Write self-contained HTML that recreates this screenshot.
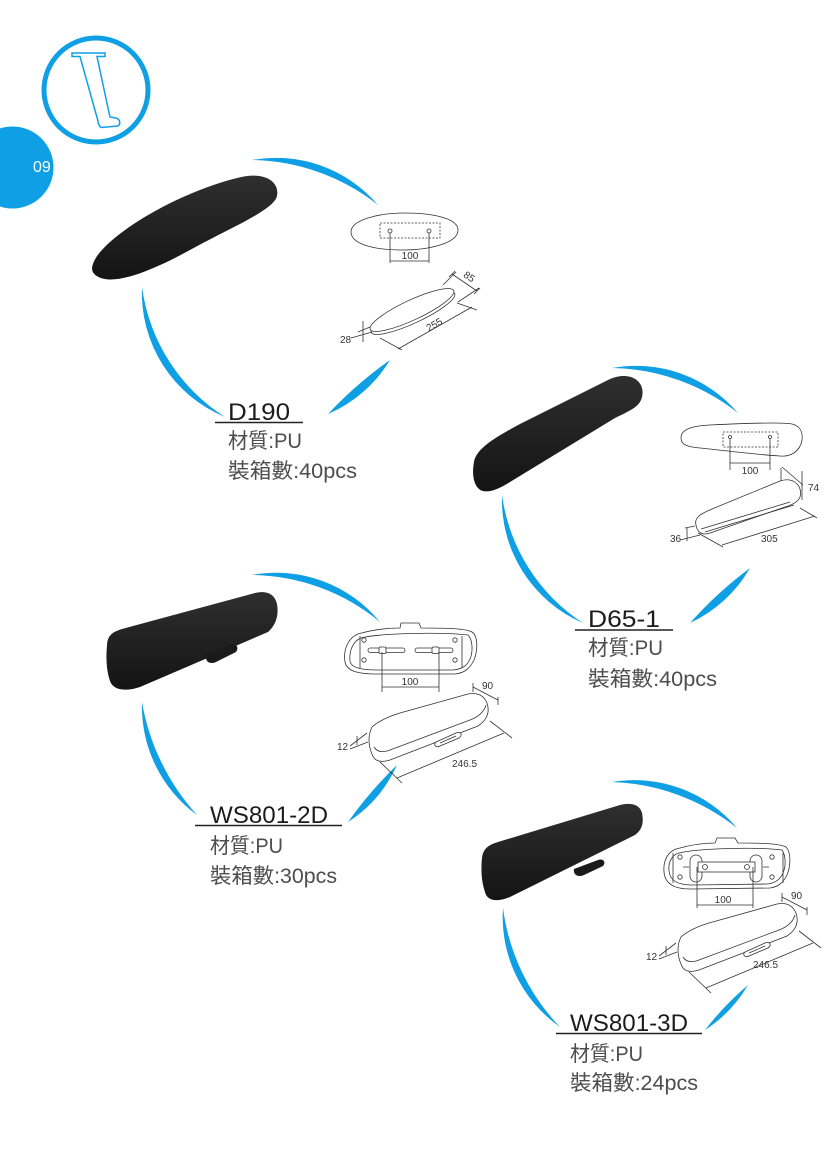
<!DOCTYPE html>
<html>
<head>
<meta charset="utf-8">
<style>
  html,body{margin:0;padding:0;background:#fff;}
  body{width:827px;height:1159px;overflow:hidden;}
  svg{display:block;}
  .lbl{font-family:"Liberation Sans","Noto Sans CJK TC",sans-serif;fill:#1c1c1c;font-size:24px;}
  .cn{font-family:"Liberation Sans","Noto Sans CJK TC",sans-serif;fill:#4d4d4d;font-size:21px;}
  .dim{font-family:"Liberation Sans",sans-serif;fill:#333;font-size:10px;}
  .ln{fill:none;stroke:#333;stroke-width:0.8;}
  .lw{fill:#fff;stroke:#333;stroke-width:0.8;}
  .arc{fill:#0f9fe5;}
</style>
</head>
<body>
<svg width="827" height="1159" viewBox="0 0 827 1159" xmlns="http://www.w3.org/2000/svg">
<defs>
  <linearGradient id="g" x1="0" y1="0" x2="0" y2="1">
    <stop offset="0" stop-color="#2f2f2f"/>
    <stop offset="1" stop-color="#141414"/>
  </linearGradient>
</defs>
<rect width="827" height="1159" fill="#fff"/>

<!-- top-left logo -->
<circle cx="12.5" cy="167.5" r="41" fill="#0f9fe5"/>
<text x="33" y="172" font-family="Liberation Sans, sans-serif" font-size="16" fill="#fff">09</text>
<circle cx="96" cy="90" r="52" fill="none" stroke="#0f9fe5" stroke-width="5"/>
<path d="M72 53 L105 53 L105 56.5 L97 56.5 L108 108 L110 117 L116 118 C120 119,121 124,118 126 L101 127.5 C99 126,98 123,98 121 L80 56.5 L72 56.5 Z" fill="none" stroke="#0f9fe5" stroke-width="1.5"/>

<!-- ===== D190 ===== -->
<path class="arc" d="M252 160 A134 134 0 0 1 378 205 A209 209 0 0 0 252 160 Z"/>
<path class="arc" d="M225 417 A134 134 0 0 1 142 287 A183 183 0 0 0 225 417 Z"/>
<path class="arc" d="M390 360 A134 134 0 0 1 328 414 A400 400 0 0 1 390 360 Z"/>
<path fill="url(#g)" d="M93 264 C100 240,170 195,237 178 C262 171,280 180,277 196 C274 210,230 228,190 250 C150 272,120 282,105 279 C94 277,90 271,93 264 Z"/>

<!-- D190 top view -->
<path class="lw" d="M351 232 C351 220,378 213,405 213 C435 213,458 219,458 230 C458 243,430 250,402 250 C374 250,351 244,351 232 Z"/>
<rect x="380" y="223" width="60" height="15" fill="none" stroke="#333" stroke-width="0.8" stroke-dasharray="2,1.5"/>
<circle class="lw" cx="390" cy="231" r="2"/>
<circle class="lw" cx="429" cy="231" r="2"/>
<path class="ln" d="M390 233 V263 M429 233 V263 M390 261 H429"/>
<text class="dim" x="410" y="259" text-anchor="middle">100</text>
<!-- D190 perspective -->
<ellipse class="lw" cx="413" cy="313" rx="46" ry="10" transform="rotate(-25 413 313)"/>
<ellipse class="lw" cx="412" cy="310" rx="46" ry="10" transform="rotate(-25 412 310)"/>
<path class="ln" d="M452 274 L477 291 M443 285 L456 272 M458 302 L479 288 M449 277 L455 271 M474 294 L480 288"/>
<text class="dim" x="469" y="280" text-anchor="middle" transform="rotate(34 469 277)">85</text>
<path class="ln" d="M380 338 L402 350 M398 349 L472 307 M457 303 L477 310"/>
<text class="dim" x="434" y="328" text-anchor="middle" transform="rotate(-30 434 324)">255</text>
<path class="ln" d="M363 321 V342 M351 338 L372 332 M358 332 L370 327"/>
<text class="dim" x="340" y="343" font-size="9">28</text>

<text class="lbl" x="228" y="420" textLength="62" lengthAdjust="spacingAndGlyphs">D190</text>
<line x1="215" y1="422.5" x2="303" y2="422.5" stroke="#222" stroke-width="1.5"/>
<text class="cn" x="228" y="448" textLength="74" lengthAdjust="spacingAndGlyphs">材質:PU</text>
<text class="cn" x="228" y="478" textLength="129" lengthAdjust="spacingAndGlyphs">裝箱數:40pcs</text>

<!-- ===== D65-1 ===== -->
<path class="arc" d="M612 368 A134 134 0 0 1 738 413 A209 209 0 0 0 612 368 Z"/>
<path class="arc" d="M583 623 A134 134 0 0 1 502 495 A182 182 0 0 0 583 623 Z"/>
<path class="arc" d="M750 568 A134 134 0 0 1 690 623 A400 400 0 0 1 750 568 Z"/>
<path fill="url(#g)" d="M474 462 C476 450,490 440,520 424 L608 380 C628 370,646 380,642 397 C640 406,632 410,615 418 L510 482 C496 491,485 494,479 489 C473 484,472 472,474 462 Z"/>

<!-- D65 top view -->
<path class="lw" d="M681 438 C681 430,690 426,710 425 C750 423,780 422,792 424 C800 426,803 432,802 440 C800 452,790 457,780 456 C750 454,720 450,700 448 C688 447,681 445,681 438 Z"/>
<rect x="723" y="432" width="55" height="15" fill="none" stroke="#333" stroke-width="0.8" stroke-dasharray="2,1.5"/>
<circle class="lw" cx="730" cy="437" r="1.5"/>
<circle class="lw" cx="770" cy="437" r="1.5"/>
<path class="ln" d="M730 439 V470 M770 439 V470 M730 463 H770"/>
<text class="dim" x="750" y="474" text-anchor="middle">100</text>
<!-- D65 perspective -->
<path class="lw" d="M696 525 C694 518,700 514,712 509 L780 481 C795 476,803 488,800 497 C798 502,792 505,785 507 L710 533 C702 536,697 532,696 525 Z"/>
<path class="ln" d="M701 529 L790 502 M705 532 L794 505"/>
<path class="ln" d="M802 471 V500 M782 467 L803 485 M781 468 V481"/>
<text class="dim" x="808" y="491">74</text>
<path class="ln" d="M698 533 L723 547 M800 508 L817 518 M722 545 L815 516"/>
<text class="dim" x="761" y="542">305</text>
<path class="ln" d="M687 528 V541 M685 528 L695 526 M680 540 L700 535"/>
<text class="dim" x="670" y="542">36</text>

<text class="lbl" x="588" y="627" textLength="72" lengthAdjust="spacingAndGlyphs">D65-1</text>
<line x1="575" y1="630" x2="673" y2="630" stroke="#222" stroke-width="1.5"/>
<text class="cn" x="588" y="655" textLength="75" lengthAdjust="spacingAndGlyphs">材質:PU</text>
<text class="cn" x="588" y="686" textLength="129" lengthAdjust="spacingAndGlyphs">裝箱數:40pcs</text>

<!-- ===== WS801-2D ===== -->
<path class="arc" d="M252 575 A134 134 0 0 1 380 622 A205 205 0 0 0 252 575 Z"/>
<path class="arc" d="M197 815 A134 134 0 0 1 142 702 A224 224 0 0 0 197 815 Z"/>
<path class="arc" d="M397 765 A134 134 0 0 1 348 822 A400 400 0 0 1 397 765 Z"/>
<path fill="url(#g)" d="M107 646 C107 636,112 632,122 629 L255 593 C268 590,275 595,277 604 C279 615,276 625,268 632 L140 687 C125 692,113 690,110 681 C106 669,106 656,107 646 Z"/>
<path fill="#1a1a1a" d="M206 655 L231 645 C237 643,239 648,236 652 L216 662 C209 665,205 661,206 655 Z"/>

<!-- WS2D top view -->
<path class="lw" d="M345 662 C343 650,348 638,358 634 C375 629,390 628,400 628 L401 623 L419 623 L421 628 C440 628,465 628,472 632 C478 636,478 650,474 660 C470 668,465 673,455 674 L378 674 C360 674,347 672,345 662 Z"/>
<path class="ln" d="M350 661 C349 651,353 641,361 638 C380 633,440 632,468 635 C473 640,473 652,470 659 C467 666,462 669,453 670 L378 670 C362 670,351 668,350 661 Z"/>
<path class="ln" d="M360 636 V668 M462 636 V668"/>
<circle class="ln" cx="364" cy="640" r="2.2"/><circle class="ln" cx="364" cy="660" r="2.2"/>
<circle class="ln" cx="455" cy="640" r="2.2"/><circle class="ln" cx="455" cy="660" r="2.2"/>
<rect class="ln" x="368" y="648" width="37" height="4.5" rx="2.2"/>
<rect class="ln" x="415" y="648" width="38" height="4.5" rx="2.2"/>
<rect class="lw" x="379" y="647" width="7" height="6.5" rx="1.5"/>
<rect class="lw" x="432" y="647" width="7" height="6.5" rx="1.5"/>
<path class="ln" d="M382 652 V692 M439 652 V692 M382 687 H439"/>
<text class="dim" x="410" y="685" text-anchor="middle">100</text>
<!-- WS2D perspective -->
<g id="persp">
<path class="lw" d="M372 727 C380 720,390 716,400 713 L468 694 C478 692,484 696,487 703 C490 712,487 720,478 726 L390 760 C380 763,374 761,372 754 C368 745,368 735,372 727 Z"/>
<path class="ln" d="M374 747 C377 752,382 753,390 750 L470 720 C478 717,484 712,486 705"/>
<path class="lw" d="M436 742 L456 733 C461 731,463 735,459 738 L440 746 C436 748,433 745,436 742 Z"/>
<path class="ln" d="M440 743 L456 736"/>
<path class="ln" d="M473 687 L498 700 M473 683 V692 M498 697 V705"/>
<text class="dim" x="482" y="689">90</text>
<path class="ln" d="M380 762 L402 783 M490 721 L512 738 M397 778 L504 733"/>
<path class="ln" d="M350 746 L367 733 M350 749 L368 742 M357 736 V745"/>
<text class="dim" x="337" y="750">12</text>
</g>
<text class="dim" x="452" y="767">246.5</text>

<text class="lbl" x="210" y="823" textLength="118" lengthAdjust="spacingAndGlyphs">WS801-2D</text>
<line x1="195" y1="825.5" x2="342" y2="825.5" stroke="#222" stroke-width="1.5"/>
<text class="cn" x="210" y="853" textLength="73" lengthAdjust="spacingAndGlyphs">材質:PU</text>
<text class="cn" x="210" y="883" textLength="127" lengthAdjust="spacingAndGlyphs">裝箱數:30pcs</text>

<!-- ===== WS801-3D ===== -->
<path class="arc" d="M612 782 A134 134 0 0 1 737 828 A213 213 0 0 0 612 782 Z"/>
<path class="arc" d="M560 1027 A134 134 0 0 1 503 908 A211 211 0 0 0 560 1027 Z"/>
<path class="arc" d="M748 985 A134 134 0 0 1 705 1030 A300 300 0 0 1 748 985 Z"/>
<path fill="url(#g)" d="M482 858 C483 849,488 845,498 842 L620 805 C632 802,640 805,642 813 C644 823,642 830,635 835 L510 897 C495 903,487 900,485 892 C481 880,481 868,482 858 Z"/>
<path fill="#1a1a1a" d="M574 869 L598 860 C604 858,606 863,603 866 L584 875 C577 878,573 874,574 869 Z"/>

<!-- WS3D top view -->
<path class="lw" d="M664 872 C663 860,668 852,676 849 C690 845,705 843,715 843 L717 838 L735 838 L738 843 C755 843,778 843,786 847 C791 852,791 865,787 875 C783 883,778 887,770 888 L690 889 C675 889,665 884,664 872 Z"/>
<path class="ln" d="M669 871 C668 862,672 855,679 853 C700 848,760 847,782 850 C786 856,786 866,783 873 C780 880,775 883,768 884 L692 885 C678 885,670 881,669 871 Z"/>
<path class="ln" d="M673 853 V883 M783 853 V883"/>
<circle class="ln" cx="680" cy="857" r="2.2"/><circle class="ln" cx="680" cy="877" r="2.2"/>
<circle class="ln" cx="772" cy="857" r="2.2"/><circle class="ln" cx="772" cy="877" r="2.2"/>
<rect class="ln" x="690" y="855" width="12" height="27" rx="6"/>
<rect class="ln" x="750" y="855" width="12" height="27" rx="6"/>
<rect class="lw" x="698" y="862" width="57" height="10"/>
<circle class="ln" cx="705" cy="867" r="2.5"/>
<circle class="ln" cx="747" cy="867" r="2.5"/>
<path class="ln" d="M683 867 H689 M763 867 H769"/>
<path class="ln" d="M697 867 V908 M753 867 V908 M697 905 H753"/>
<text class="dim" x="723" y="903" text-anchor="middle">100</text>
<!-- WS3D perspective (copy) -->
<use href="#persp" transform="translate(309 210)"/>
<text class="dim" x="753" y="968">246.5</text>

<text class="lbl" x="570" y="1031" textLength="118" lengthAdjust="spacingAndGlyphs">WS801-3D</text>
<line x1="556" y1="1033.5" x2="702" y2="1033.5" stroke="#222" stroke-width="1.5"/>
<text class="cn" x="570" y="1061" textLength="73" lengthAdjust="spacingAndGlyphs">材質:PU</text>
<text class="cn" x="570" y="1090" textLength="128" lengthAdjust="spacingAndGlyphs">裝箱數:24pcs</text>
</svg>
</body>
</html>
